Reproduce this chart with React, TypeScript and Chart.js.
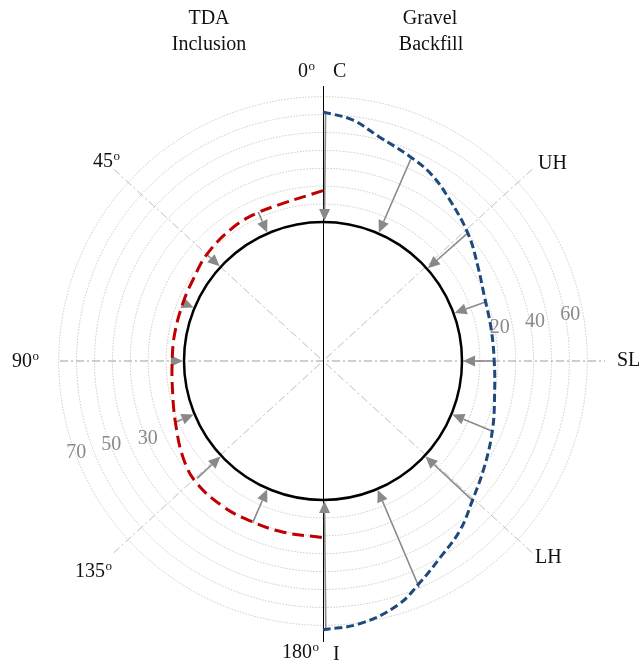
import React, { useEffect, useRef } from "react";
import { Chart, registerables } from "chart.js";
Chart.register(...registerables);

// Angles in degrees measured from the crown (C = 0°) towards the invert (I = 180°)
const gravelAngles = [0, 7, 14, 23, 30, 38, 49, 59, 68, 79, 90, 101, 112, 123, 133, 141, 149, 156, 163, 172, 180];
const gravelPressure = [61.5, 58, 51.5, 46.5, 43, 37, 30, 23.5, 19.5, 18, 18, 20, 24.5, 30, 36.5, 44, 50, 57, 65, 70.5, 72.5];

const tdaAngles = [0, 14, 24, 34, 47, 58, 68, 80, 90, 101, 113, 125, 134, 146, 156, 167, 180];
const tdaPressure = [17.5, 13.2, 12.8, 12.3, 10.5, 8, 7, 6.6, 6.6, 8, 11.8, 17.5, 20.5, 21, 20.5, 20.5, 21];

const gravelArrowAngles = [0.6, 23.5, 48.5, 70, 90, 112.5, 133, 157, 179.4];
const gravelArrowPressure = [61.5, 46, 30, 18.5, 17.5, 24.5, 37.5, 60, 72.5];

const tdaArrowAngles = [23.5, 47.5, 67.5, 90, 112.5, 133, 156.5];
const tdaArrowPressure = [13, 10, 7.2, 7.5, 12, 18.5, 21];

const gridValues = [10, 20, 30, 40, 50, 60, 70];
const rightTickLabels = ["20", "40", "60"];
const leftTickLabels = ["30", "50", "70"];

const PX = 1.79; // pixels per pressure unit
const R0 = 139 / PX; // pipe radius in pressure units
const W = 641;
const H = 663;
const CXP = 323;
const CYP = 361;

const SERIF = '"Liberation Serif", "Times New Roman", serif';

function polar(angle: number, p: number, side: number) {
  const a = (angle * Math.PI) / 180;
  const r = R0 + p;
  return { x: side * r * Math.sin(a), y: r * Math.cos(a) };
}

const polarPlugin = {
  id: "polarDecor",
  beforeDatasetsDraw(chart: any) {
    const { ctx } = chart;
    const xs = chart.scales.x;
    const ys = chart.scales.y;
    const cx = xs.getPixelForValue(0);
    const cy = ys.getPixelForValue(0);
    const k = xs.getPixelForValue(1) - cx;
    const rPix = (p: number) => (R0 + p) * k;
    ctx.save();

    // grid circles
    ctx.strokeStyle = "#c8c8c8";
    ctx.lineWidth = 1;
    ctx.setLineDash([1.5, 1.5]);
    gridValues.forEach((v) => {
      ctx.beginPath();
      ctx.arc(cx, cy, rPix(v), 0, Math.PI * 2);
      ctx.stroke();
    });

    // dash-dot reference lines
    ctx.strokeStyle = "#bdbdbd";
    ctx.setLineDash([8, 3, 2, 3]);
    ctx.lineWidth = 1.5;
    ctx.beginPath();
    ctx.moveTo(cx - 263, cy);
    ctx.lineTo(cx + 282, cy);
    ctx.stroke();
    ctx.lineWidth = 1;
    const dA = (47.5 * Math.PI) / 180;
    const L = 284;
    [1, -1].forEach((sx) => {
      ctx.beginPath();
      ctx.moveTo(cx - sx * L * Math.sin(dA), cy - L * Math.cos(dA));
      ctx.lineTo(cx + sx * L * Math.sin(dA), cy + L * Math.cos(dA));
      ctx.stroke();
    });
    ctx.setLineDash([]);

    // pipe
    ctx.strokeStyle = "#000";
    ctx.lineWidth = 2.5;
    ctx.beginPath();
    ctx.arc(cx, cy, rPix(0), 0, Math.PI * 2);
    ctx.stroke();

    // vertical axis
    ctx.lineWidth = 1;
    ctx.beginPath();
    ctx.moveTo(cx + 0.5, cy - 275);
    ctx.lineTo(cx + 0.5, cy + 281);
    ctx.stroke();

    // arrows
    const drawArrow = (angle: number, p: number, side: number) => {
      const s = polar(angle, p, side);
      const e = polar(angle, 0.6, side);
      const x1 = xs.getPixelForValue(s.x);
      const y1 = ys.getPixelForValue(s.y);
      const x2 = xs.getPixelForValue(e.x);
      const y2 = ys.getPixelForValue(e.y);
      const ang = Math.atan2(y2 - y1, x2 - x1);
      const hl = 12;
      const hw = 5.5;
      const bx = x2 - hl * Math.cos(ang);
      const by = y2 - hl * Math.sin(ang);
      ctx.strokeStyle = "#898989";
      ctx.fillStyle = "#898989";
      ctx.lineWidth = 1.6;
      ctx.beginPath();
      ctx.moveTo(x1, y1);
      ctx.lineTo(bx, by);
      ctx.stroke();
      ctx.beginPath();
      ctx.moveTo(x2, y2);
      ctx.lineTo(bx + hw * Math.sin(ang), by - hw * Math.cos(ang));
      ctx.lineTo(bx - hw * Math.sin(ang), by + hw * Math.cos(ang));
      ctx.closePath();
      ctx.fill();
    };
    gravelArrowAngles.forEach((a, i) => drawArrow(a, gravelArrowPressure[i], 1));
    tdaArrowAngles.forEach((a, i) => drawArrow(a, tdaArrowPressure[i], -1));
    ctx.restore();
  },
  afterDatasetsDraw(chart: any) {
    const { ctx } = chart;
    const xs = chart.scales.x;
    const ys = chart.scales.y;
    const cx = xs.getPixelForValue(0);
    const cy = ys.getPixelForValue(0);
    const k = xs.getPixelForValue(1) - cx;
    ctx.save();

    // tick labels
    ctx.font = `20px ${SERIF}`;
    ctx.fillStyle = "#8a8a8a";
    ctx.textAlign = "center";
    ctx.textBaseline = "middle";
    rightTickLabels.forEach((t) => {
      const r = (R0 + Number(t)) * k + 5;
      const a = (10.5 * Math.PI) / 180;
      ctx.fillText(t, cx + r * Math.cos(a), cy - r * Math.sin(a));
    });
    const leftAng = [24, 21.5, 20.5];
    leftTickLabels.forEach((t, i) => {
      const r = (R0 + Number(t)) * k - 1;
      const a = (leftAng[i] * Math.PI) / 180;
      ctx.fillText(t, cx - r * Math.cos(a), cy + r * Math.sin(a));
    });

    // titles
    ctx.fillStyle = "#111";
    ctx.textBaseline = "alphabetic";
    ctx.font = `20px ${SERIF}`;
    ctx.fillText("TDA", cx - 114, cy - 337);
    ctx.fillText("Inclusion", cx - 114, cy - 311);
    ctx.fillText("Gravel", cx + 107, cy - 337);
    ctx.fillText("Backfill", cx + 108, cy - 311);

    ctx.textAlign = "left";
    const deg = (num: string, x: number, y: number) => {
      ctx.font = `20px ${SERIF}`;
      ctx.fillText(num, x, y);
      const w = ctx.measureText(num).width;
      ctx.font = `13px ${SERIF}`;
      ctx.fillText("o", x + w + 0.5, y - 7);
    };
    const plain = (t: string, x: number, y: number) => {
      ctx.font = `20px ${SERIF}`;
      ctx.fillText(t, x, y);
    };
    deg("0", cx - 25, cy - 284);
    plain("C", cx + 10, cy - 284);
    deg("45", cx - 230, cy - 194);
    plain("UH", cx + 215, cy - 192);
    deg("90", cx - 311, cy + 6);
    plain("SL", cx + 294, cy + 5);
    deg("135", cx - 248, cy + 216);
    plain("LH", cx + 212, cy + 202);
    deg("180", cx - 41, cy + 297);
    plain("I", cx + 10, cy + 299);
    ctx.restore();
  },
};

export default function App() {
  const ref = useRef<HTMLCanvasElement>(null);
  useEffect(() => {
    document.body.style.margin = "0";
    const gravelData = gravelAngles.map((a, i) => polar(a, gravelPressure[i], 1));
    const tdaData = tdaAngles.map((a, i) => polar(a, tdaPressure[i], -1));
    const chart = new Chart(ref.current as HTMLCanvasElement, {
      type: "scatter",
      data: {
        datasets: [
          {
            label: "Gravel Backfill",
            data: gravelData,
            showLine: true,
            borderColor: "#1F497D",
            borderWidth: 3,
            borderDash: [8, 4],
            pointRadius: 0,
            tension: 0.4,
            fill: false,
          },
          {
            label: "TDA Inclusion",
            data: tdaData,
            showLine: true,
            borderColor: "#C00000",
            borderWidth: 3,
            borderDash: [12, 6],
            pointRadius: 0,
            tension: 0.4,
            fill: false,
          },
        ],
      } as any,
      options: {
        responsive: false,
        animation: false,
        devicePixelRatio: 1,
        layout: { padding: 0 },
        scales: {
          x: { type: "linear", min: -CXP / PX, max: (W - CXP) / PX, display: false },
          y: { type: "linear", min: -(H - CYP) / PX, max: CYP / PX, display: false },
        },
        plugins: { legend: { display: false }, tooltip: { enabled: false } },
        events: [],
      } as any,
      plugins: [polarPlugin],
    });
    return () => chart.destroy();
  }, []);
  return <canvas ref={ref} width={W} height={H} style={{ display: "block", width: W, height: H }} />;
}
